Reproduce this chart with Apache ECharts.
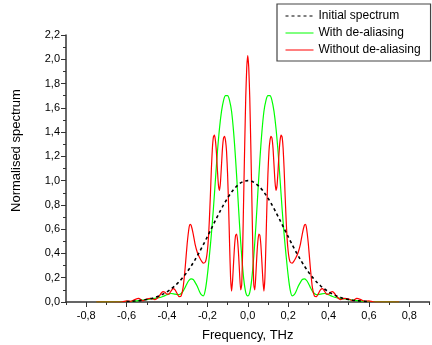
<!DOCTYPE html>
<html>
<head>
<meta charset="utf-8">
<script src="https://cdn.jsdelivr.net/npm/echarts/dist/echarts.min.js"></script>
<style>html,body{margin:0;padding:0;background:#fff}#c{width:432px;height:345px}</style>
</head>
<body>
<div id="c"></div>
<script>
// Tick labels
const xTickValues = [-0.8,-0.6,-0.4,-0.2,0,0.2,0.4,0.6,0.8];
const xMinorTickValues = [-0.9,-0.7,-0.5,-0.3,-0.1,0.1,0.3,0.5,0.7,0.9];

// Initial spectrum
const initialFreq = [-0.6,-0.58,-0.56,-0.54,-0.52,-0.5,-0.48,-0.46,-0.44,-0.42,-0.4,-0.38,-0.36,-0.34,-0.32,-0.3,-0.28,-0.26,-0.24,-0.22,-0.2,-0.18,-0.16,-0.14,-0.12,-0.1,-0.08,-0.06,-0.04,-0.02,0,0.02,0.04,0.06,0.08,0.1,0.12,0.14,0.16,0.18,0.2,0.22,0.24,0.26,0.28,0.3,0.32,0.34,0.36,0.38,0.4,0.42,0.44,0.46,0.48,0.5,0.52,0.54,0.56,0.58,0.6];
const initialValues = [0.004,0.005,0.008,0.011,0.015,0.021,0.028,0.038,0.050,0.065,0.084,0.107,0.134,0.167,0.205,0.248,0.297,0.351,0.410,0.472,0.538,0.605,0.673,0.738,0.800,0.856,0.906,0.946,0.976,0.994,1.000,0.994,0.976,0.946,0.906,0.856,0.800,0.738,0.673,0.605,0.538,0.472,0.410,0.351,0.297,0.248,0.205,0.167,0.134,0.107,0.084,0.065,0.050,0.038,0.028,0.021,0.015,0.011,0.008,0.005,0.004];

// With de-aliasing
const withFreq = [-0.75,-0.7,-0.65,-0.6,-0.55,-0.5,-0.48,-0.46,-0.44,-0.42,-0.4,-0.38,-0.36,-0.34,-0.33,-0.32,-0.31,-0.3,-0.29,-0.28,-0.27,-0.26,-0.25,-0.24,-0.23,-0.22,-0.21,-0.2,-0.19,-0.18,-0.17,-0.16,-0.15,-0.14,-0.13,-0.12,-0.11,-0.1,-0.09,-0.08,-0.07,-0.06,-0.05,-0.04,-0.03,-0.02,-0.01,0,0.01,0.02,0.03,0.04,0.05,0.06,0.07,0.08,0.09,0.1,0.11,0.12,0.13,0.14,0.15,0.16,0.17,0.18,0.19,0.2,0.21,0.22,0.23,0.24,0.25,0.26,0.27,0.28,0.29,0.3,0.31,0.32,0.33,0.34,0.36,0.38,0.4,0.42,0.44,0.46,0.48,0.5,0.55,0.6,0.65,0.7,0.75];
const withValues = [0,0.001,0.002,0.004,0.01,0.02,0.025,0.03,0.035,0.045,0.06,0.07,0.065,0.06,0.07,0.09,0.12,0.155,0.18,0.19,0.185,0.16,0.13,0.09,0.06,0.05,0.10,0.22,0.38,0.56,0.77,1.01,1.24,1.43,1.57,1.66,1.70,1.70,1.66,1.57,1.40,1.17,0.90,0.62,0.38,0.19,0.08,0.05,0.08,0.19,0.38,0.62,0.90,1.17,1.40,1.57,1.66,1.70,1.70,1.66,1.57,1.43,1.24,1.01,0.77,0.56,0.38,0.22,0.10,0.05,0.06,0.09,0.13,0.16,0.185,0.19,0.18,0.155,0.12,0.09,0.07,0.06,0.065,0.07,0.06,0.045,0.035,0.03,0.025,0.02,0.01,0.004,0.002,0.001,0];

// Without de-aliasing
const withoutFreq = [-0.75,-0.7,-0.65,-0.62,-0.6,-0.58,-0.56,-0.54,-0.52,-0.5,-0.48,-0.46,-0.44,-0.43,-0.42,-0.41,-0.4,-0.39,-0.38,-0.37,-0.36,-0.35,-0.34,-0.33,-0.32,-0.31,-0.3,-0.29,-0.285,-0.28,-0.27,-0.26,-0.25,-0.24,-0.23,-0.22,-0.21,-0.205,-0.2,-0.195,-0.19,-0.185,-0.18,-0.175,-0.17,-0.165,-0.16,-0.155,-0.15,-0.145,-0.14,-0.135,-0.13,-0.125,-0.12,-0.115,-0.11,-0.105,-0.1,-0.095,-0.09,-0.085,-0.08,-0.075,-0.07,-0.065,-0.06,-0.055,-0.05,-0.045,-0.04,-0.035,-0.03,-0.025,-0.02,-0.015,-0.01,-0.005,0,0.005,0.01,0.015,0.02,0.025,0.03,0.035,0.04,0.045,0.05,0.055,0.06,0.065,0.07,0.075,0.08,0.085,0.09,0.095,0.1,0.105,0.11,0.115,0.12,0.125,0.13,0.135,0.14,0.145,0.15,0.155,0.16,0.165,0.17,0.175,0.18,0.185,0.19,0.195,0.2,0.205,0.21,0.22,0.23,0.24,0.25,0.26,0.27,0.28,0.285,0.29,0.3,0.31,0.32,0.33,0.34,0.35,0.36,0.37,0.38,0.39,0.4,0.41,0.42,0.43,0.44,0.46,0.48,0.5,0.52,0.54,0.56,0.58,0.6,0.62,0.65,0.7,0.75];
const withoutValues = [0,0,0,0.002,0.01,0.005,0.02,0.03,0.01,0.025,0.03,0.02,0.045,0.07,0.085,0.08,0.065,0.065,0.09,0.11,0.10,0.07,0.045,0.05,0.12,0.28,0.48,0.62,0.64,0.63,0.56,0.47,0.41,0.37,0.34,0.32,0.33,0.36,0.42,0.52,0.68,0.88,1.10,1.27,1.36,1.375,1.33,1.23,1.08,0.96,0.92,0.99,1.13,1.27,1.35,1.365,1.33,1.24,1.06,0.80,0.48,0.20,0.09,0.18,0.33,0.47,0.55,0.56,0.50,0.38,0.22,0.10,0.14,0.45,0.88,1.30,1.68,1.93,2.03,1.93,1.68,1.30,0.88,0.45,0.14,0.10,0.22,0.38,0.50,0.56,0.55,0.47,0.33,0.18,0.09,0.20,0.48,0.80,1.06,1.24,1.33,1.365,1.35,1.27,1.13,0.99,0.92,0.96,1.08,1.23,1.33,1.375,1.36,1.27,1.10,0.88,0.68,0.52,0.42,0.36,0.33,0.32,0.34,0.37,0.41,0.47,0.56,0.63,0.64,0.62,0.48,0.28,0.12,0.05,0.045,0.07,0.10,0.11,0.09,0.065,0.065,0.08,0.085,0.07,0.045,0.02,0.03,0.025,0.01,0.03,0.02,0.005,0.01,0.002,0,0,0];

const seriesNames = ['Initial spectrum','With de-aliasing','Without de-aliasing'];

const zip = (xs, ys) => xs.map((x, i) => [x, ys[i]]);
const fmt = v => v.toFixed(1).replace('.', ',');
const FONT = '"Liberation Sans", Arial, sans-serif';

const chart = echarts.init(document.getElementById('c'), null, {renderer: 'canvas'});
chart.setOption({
  animation: false,
  backgroundColor: '#fff',
  textStyle: {fontFamily: FONT},
  grid: {left: 66, right: 2.5, top: 35, bottom: 43, containLabel: false, outerBoundsMode: 'none'},
  legend: {
    orient: 'vertical',
    left: 277, top: 4,
    padding: [6, 10, 5, 8],
    itemWidth: 28, itemHeight: 14, itemGap: 5,
    borderColor: '#444', borderWidth: 1.2,
    backgroundColor: '#fff',
    itemStyle: {color: 'rgba(0,0,0,0)', borderColor: 'rgba(0,0,0,0)', borderWidth: 0, opacity: 0},
    lineStyle: {width: 1},
    textStyle: {fontFamily: FONT, fontSize: 12, color: '#000'},
    data: seriesNames
  },
  xAxis: [{
    type: 'value', min: -0.9, max: 0.9,
    name: 'Frequency, THz', nameLocation: 'middle', nameGap: 27,
    nameTextStyle: {fontFamily: FONT, fontSize: 13, color: '#000'},
    splitLine: {show: false},
    axisLine: {show: true, onZero: false, lineStyle: {color: '#333', width: 1.5}},
    axisTick: {show: true, inside: false, length: 5, customValues: xTickValues, lineStyle: {color: '#333', width: 1}},
    axisLabel: {show: true, customValues: xTickValues, margin: 8, fontFamily: FONT, fontSize: 11, color: '#000', formatter: fmt}
  }, {
    type: 'value', min: -0.9, max: 0.9, position: 'bottom',
    splitLine: {show: false},
    axisLine: {show: false, onZero: false},
    axisTick: {show: true, inside: false, length: 3, customValues: xMinorTickValues, lineStyle: {color: '#333', width: 1}},
    axisLabel: {show: false}
  }],
  yAxis: {
    type: 'value', min: 0, max: 2.2, interval: 0.2,
    name: 'Normalised spectrum', nameLocation: 'middle', nameGap: 43,
    nameTextStyle: {fontFamily: FONT, fontSize: 13, color: '#000', padding: [0, 0, 0, 36]},
    splitLine: {show: false},
    axisLine: {show: true, onZero: false, lineStyle: {color: '#333', width: 1.5}},
    axisTick: {show: true, inside: false, length: 5, lineStyle: {color: '#333', width: 1}},
    minorTick: {show: true, splitNumber: 2, length: 3, lineStyle: {color: '#333', width: 1}},
    axisLabel: {margin: 6, fontFamily: FONT, fontSize: 11, color: '#000', formatter: fmt}
  },
  series: [{
    name: 'Initial spectrum', type: 'line', z: 4,
    data: zip(initialFreq, initialValues),
    showSymbol: false, symbol: 'none', smooth: 0.3,
    lineStyle: {color: '#000', width: 1.6, type: [3, 3]},
    itemStyle: {color: '#000'}
  }, {
    name: 'With de-aliasing', type: 'line', z: 2,
    data: zip(withFreq, withValues),
    showSymbol: false, symbol: 'none', smooth: 0.3,
    lineStyle: {color: '#00ff00', width: 1.2},
    itemStyle: {color: '#00ff00'}
  }, {
    name: 'Without de-aliasing', type: 'line', z: 3,
    data: zip(withoutFreq, withoutValues),
    showSymbol: false, symbol: 'none', smooth: 0.2,
    lineStyle: {color: '#ff0000', width: 1.2},
    itemStyle: {color: '#ff0000'}
  }]
});
</script>
</body>
</html>
